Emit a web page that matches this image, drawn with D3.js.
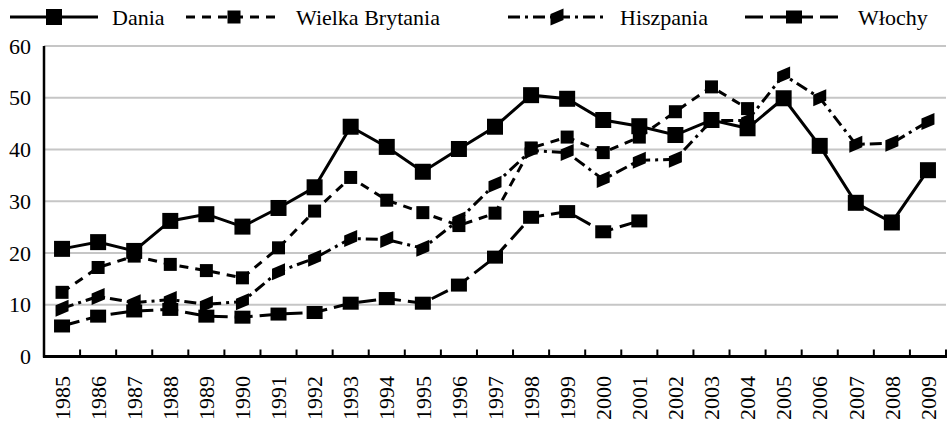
<!DOCTYPE html>
<html><head><meta charset="utf-8">
<script src="https://cdn.jsdelivr.net/npm/d3@7"></script>
<style>body{margin:0;background:#fff}svg{display:block}svg text{font-family:"Liberation Serif","Times New Roman",Times,serif}</style>
</head><body>
<script>
const years = ["1985","1986","1987","1988","1989","1990","1991","1992","1993","1994","1995","1996","1997","1998","1999","2000","2001","2002","2003","2004","2005","2006","2007","2008","2009"];
const dania = [20.8,22.1,20.4,26.2,27.5,25.1,28.7,32.7,44.4,40.5,35.7,40.1,44.4,50.5,49.8,45.7,44.5,42.8,45.7,44.1,49.9,40.7,29.7,25.9,36.0];
const wielkaBrytania = [12.4,17.2,19.4,17.8,16.6,15.2,21.0,28.1,34.6,30.2,27.8,25.3,27.7,40.3,42.4,39.4,42.4,47.3,52.1,47.9,null,null,null,null,null];
const hiszpania = [9.3,11.6,10.4,11.0,10.1,10.6,16.4,19.0,22.8,22.6,20.9,26.4,33.3,39.8,39.4,34.2,37.9,38.1,45.6,45.6,54.4,50.0,41.0,41.2,45.4];
const wlochy = [5.9,7.8,8.8,9.1,7.8,7.6,8.2,8.5,10.3,11.2,10.3,13.8,19.2,26.9,28.0,24.1,26.2,null,null,null,null,null,null,null,null];
const seriesNames = ["Dania","Wielka Brytania","Hiszpania","Włochy"];
const yTicks = [0,10,20,30,40,50,60];

const W = 949, H = 423;
const pLeft = 44, pRight = 946, pTop = 46, pBottom = 356.5;

const svg = d3.select("body").append("svg").attr("width", W).attr("height", H);

const x = d3.scaleBand().domain(years).range([pLeft, pRight]);
const y = d3.scaleLinear().domain([0, 60]).range([pBottom, pTop]);

// gridlines
svg.append("g").selectAll("line").data(yTicks.filter(d => d > 0)).join("line")
  .attr("x1", pLeft).attr("x2", pRight)
  .attr("y1", d => y(d)).attr("y2", d => y(d))
  .attr("stroke", "#c6c6c6").attr("stroke-width", 2);

// y labels
svg.append("g").selectAll("text").data(yTicks).join("text")
  .attr("x", 31).attr("y", d => y(d)).attr("dy", "0.35em")
  .attr("text-anchor", "end")
  .attr("font-size", 22).attr("fill", "#000")
  .text(d => d);

// x ticks (at band boundaries, inward)
const bounds = years.map(d => x(d)).concat([pRight]);
svg.append("g").selectAll("line").data(bounds).join("line")
  .attr("x1", d => d).attr("x2", d => d)
  .attr("y1", pBottom).attr("y2", pBottom - 7)
  .attr("stroke", "#000").attr("stroke-width", 2);

// x labels
svg.append("g").selectAll("text").data(years).join("text")
  .attr("transform", d => `translate(${x(d) + x.bandwidth()/2},376) rotate(-90)`)
  .attr("text-anchor", "end").attr("dy", "0.35em")
  .attr("font-size", 22).attr("fill", "#000")
  .text(d => d);

// axes lines
svg.append("line").attr("x1", pLeft).attr("x2", pLeft).attr("y1", pTop).attr("y2", pBottom + 1)
  .attr("stroke", "#000").attr("stroke-width", 2.5);
svg.append("line").attr("x1", pLeft - 1).attr("x2", pRight + 1).attr("y1", pBottom).attr("y2", pBottom)
  .attr("stroke", "#000").attr("stroke-width", 3);

const markers = {
  "Dania": g => g.append("rect").attr("x", -8).attr("y", -8).attr("width", 16).attr("height", 16),
  "Wielka Brytania": g => g.append("rect").attr("x", -6.5).attr("y", -6.5).attr("width", 13).attr("height", 13),
  "Hiszpania": g => g.append("path").attr("d", "M-6.5,-3L6.5,-8.5L6.5,3L-6.5,8.5Z"),
  "Włochy": g => g.append("rect").attr("x", -8).attr("y", -6.5).attr("width", 16).attr("height", 13)
};
const dashes = {"Dania": null, "Wielka Brytania": "9,7", "Hiszpania": "12,5,3,5", "Włochy": "18,7"};
const seriesData = [dania, wielkaBrytania, hiszpania, wlochy];

const line = d3.line()
  .defined(d => d.v != null)
  .x(d => x(d.year) + x.bandwidth()/2)
  .y(d => y(d.v));

seriesNames.forEach((name, si) => {
  const pts = years.map((yr, i) => ({year: yr, v: seriesData[si][i]}));
  const g = svg.append("g");
  g.append("path").datum(pts).attr("d", line)
    .attr("fill", "none").attr("stroke", "#000").attr("stroke-width", 3)
    .attr("stroke-dasharray", dashes[name]);
  pts.filter(d => d.v != null).forEach(d => {
    const mg = g.append("g").attr("transform", `translate(${x(d.year) + x.bandwidth()/2},${y(d.v)})`).attr("fill", "#000");
    markers[name](mg);
  });
});

// legend
const legendItems = [
  {name: "Dania", x0: 10, x1: 98, tx: 112},
  {name: "Wielka Brytania", x0: 186, x1: 282, tx: 296},
  {name: "Hiszpania", x0: 508, x1: 606, tx: 620},
  {name: "Włochy", x0: 745, x1: 843, tx: 858}
];
const ly = 17;
legendItems.forEach(it => {
  const g = svg.append("g");
  g.append("line").attr("x1", it.x0).attr("x2", it.x1).attr("y1", ly).attr("y2", ly)
    .attr("stroke", "#000").attr("stroke-width", 3).attr("stroke-dasharray", dashes[it.name]);
  const mg = g.append("g").attr("transform", `translate(${(it.x0 + it.x1)/2},${ly})`).attr("fill", "#000");
  markers[it.name](mg);
  g.append("text").attr("x", it.tx).attr("y", ly).attr("dy", "0.35em")
    .attr("font-size", 22).attr("fill", "#000")
    .text(it.name);
});
</script>
</body></html>
